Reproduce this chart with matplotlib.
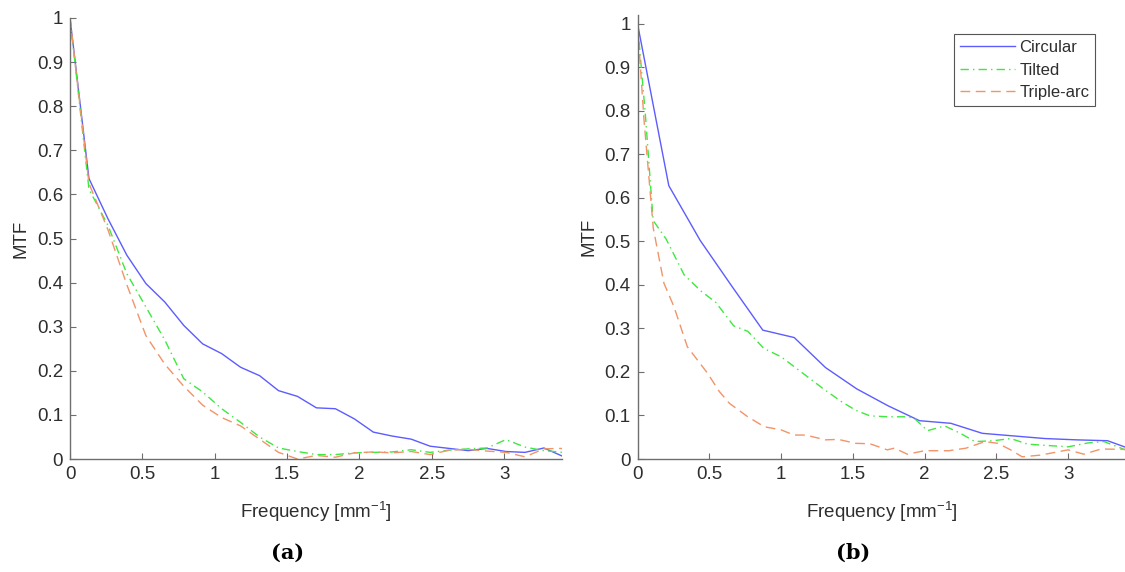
import numpy as np
import matplotlib
matplotlib.use("Agg")
import matplotlib.pyplot as plt

plt.rcParams['font.family'] = ['Liberation Sans', 'DejaVu Sans']
plt.rcParams['mathtext.default'] = 'regular'

# (a) all three curves share the same frequency samples
freq_a = [0.000, 0.131, 0.262, 0.393, 0.524, 0.655, 0.786, 0.917, 1.048, 1.179,
          1.310, 1.441, 1.572, 1.703, 1.834, 1.965, 2.096, 2.227, 2.358, 2.489,
          2.620, 2.751, 2.882, 3.013, 3.144, 3.275, 3.406]
circ_a = [1.00, 0.636, 0.545, 0.462, 0.398, 0.356, 0.303, 0.261, 0.239, 0.208,
          0.189, 0.155, 0.142, 0.116, 0.114, 0.091, 0.061, 0.052, 0.045, 0.029,
          0.024, 0.019, 0.024, 0.017, 0.015, 0.025, 0.006]
tilt_a = [1.00, 0.612, 0.530, 0.420, 0.345, 0.270, 0.182, 0.152, 0.114, 0.083,
          0.050, 0.025, 0.017, 0.010, 0.010, 0.014, 0.015, 0.016, 0.021, 0.015,
          0.020, 0.023, 0.025, 0.044, 0.027, 0.019, 0.015]
trip_a = [1.00, 0.625, 0.520, 0.395, 0.280, 0.215, 0.165, 0.122, 0.094, 0.075,
          0.045, 0.015, 0.000, 0.008, 0.004, 0.014, 0.016, 0.014, 0.017, 0.010,
          0.020, 0.022, 0.018, 0.015, 0.005, 0.023, 0.024]

# (b) circular
freq_b_circ = [0.000, 0.218, 0.437, 0.655, 0.873, 1.092, 1.310, 1.528, 1.747,
               1.965, 2.183, 2.402, 2.620, 2.838, 3.057, 3.275, 3.493]
circ_b = [1.00, 0.628, 0.502, 0.398, 0.296, 0.279, 0.210, 0.161, 0.122,
          0.088, 0.082, 0.059, 0.053, 0.047, 0.044, 0.042, 0.016]

# (b) tilted
freq_b_tilt = [0.000, 0.055, 0.109, 0.200, 0.325, 0.445, 0.545, 0.670, 0.770, 0.880,
               1.000, 1.120, 1.300, 1.420, 1.520, 1.620, 1.750, 1.880, 1.930, 2.020,
               2.140, 2.250, 2.350, 2.480, 2.600, 2.720, 2.860, 3.000, 3.140, 3.250, 3.400]
tilt_b = [1.00, 0.790, 0.548, 0.505, 0.423, 0.385, 0.360, 0.306, 0.293, 0.254,
          0.235, 0.205, 0.160, 0.132, 0.112, 0.099, 0.097, 0.097, 0.093, 0.065,
          0.076, 0.059, 0.040, 0.042, 0.047, 0.034, 0.031, 0.028, 0.037, 0.040, 0.021]

# (b) triple-arc
freq_b_trip = [0.000, 0.045, 0.110, 0.184, 0.254, 0.347, 0.488, 0.570, 0.640, 0.768,
               0.884, 1.000, 1.090, 1.170, 1.310, 1.400, 1.520, 1.620, 1.740, 1.790,
               1.880, 2.000, 2.170, 2.290, 2.420, 2.510, 2.600, 2.680, 2.810, 3.000,
               3.110, 3.230, 3.400]
trip_b = [1.00, 0.780, 0.530, 0.404, 0.350, 0.258, 0.197, 0.155, 0.128, 0.097,
          0.074, 0.067, 0.055, 0.055, 0.044, 0.045, 0.036, 0.035, 0.021, 0.025,
          0.011, 0.019, 0.019, 0.025, 0.040, 0.036, 0.021, 0.005, 0.009, 0.021,
          0.011, 0.023, 0.022]

labels = ['Circular', 'Tilted', 'Triple-arc']
c_blue = '#5c5cff'
c_green = '#3fe83f'
c_orange = '#f29468'
axis_col = '#6e6e6e'
text_col = '#2e2e2e'


def style_axes(ax, ymax):
    ax.set_xlim(0, 3.4)
    ax.set_ylim(0, ymax)
    ax.set_xticks([0, 0.5, 1, 1.5, 2, 2.5, 3])
    ax.set_xticklabels(['0', '0.5', '1', '1.5', '2', '2.5', '3'])
    ax.set_yticks(np.round(np.arange(0, 1.01, 0.1), 1))
    ax.set_yticklabels(['0', '0.1', '0.2', '0.3', '0.4', '0.5', '0.6', '0.7', '0.8', '0.9', '1'])
    for s in ['top', 'right']:
        ax.spines[s].set_visible(False)
    for s in ['left', 'bottom']:
        ax.spines[s].set_color(axis_col)
        ax.spines[s].set_linewidth(1.0)
    ax.tick_params(direction='in', length=4, width=0.8, color=axis_col,
                   labelcolor=text_col, labelsize=13.5, pad=5)
    ax.set_xlabel('Frequency [mm$^{-1}$]', fontsize=13.5, color=text_col, labelpad=12)
    ax.set_ylabel('MTF', fontsize=13.5, color=text_col, labelpad=5)


fig = plt.figure(figsize=(11.25, 5.72), dpi=100)
ax1 = fig.add_axes([70 / 1125, 113 / 572, 492 / 1125, 441 / 572])
ax2 = fig.add_axes([637.5 / 1125, 113 / 572, 488 / 1125, 444 / 572])

lw = 1.0
ax1.plot(freq_a, circ_a, color=c_blue, lw=lw, label=labels[0])
ax1.plot(freq_a, tilt_a, color=c_green, lw=lw, dashes=(6, 3, 1, 3), label=labels[1])
ax1.plot(freq_a, trip_a, color=c_orange, lw=lw, dashes=(7, 4), label=labels[2])
style_axes(ax1, 1.0)

ax2.plot(freq_b_circ, circ_b, color=c_blue, lw=lw, label=labels[0])
ax2.plot(freq_b_tilt, tilt_b, color=c_green, lw=lw, dashes=(6, 3, 1, 3), label=labels[1])
ax2.plot(freq_b_trip, trip_b, color=c_orange, lw=lw, dashes=(7, 4), label=labels[2])
style_axes(ax2, 1.02)

leg = ax2.legend(loc='upper right', bbox_to_anchor=(0.955, 0.975), fontsize=12,
                 handlelength=3.3, handletextpad=0.25, borderpad=0.35,
                 labelspacing=0.45, fancybox=False, framealpha=1)
leg.get_frame().set_edgecolor('#555555')
leg.get_frame().set_linewidth(0.8)
for t in leg.get_texts():
    t.set_color(text_col)

fig.text(288 / 1125, 1 - 553 / 572, '(a)', fontsize=15, fontweight='bold',
         family='DejaVu Serif', ha='center', va='center')
fig.text(853 / 1125, 1 - 553 / 572, '(b)', fontsize=15, fontweight='bold',
         family='DejaVu Serif', ha='center', va='center')

fig.savefig('out.png', dpi=100)
